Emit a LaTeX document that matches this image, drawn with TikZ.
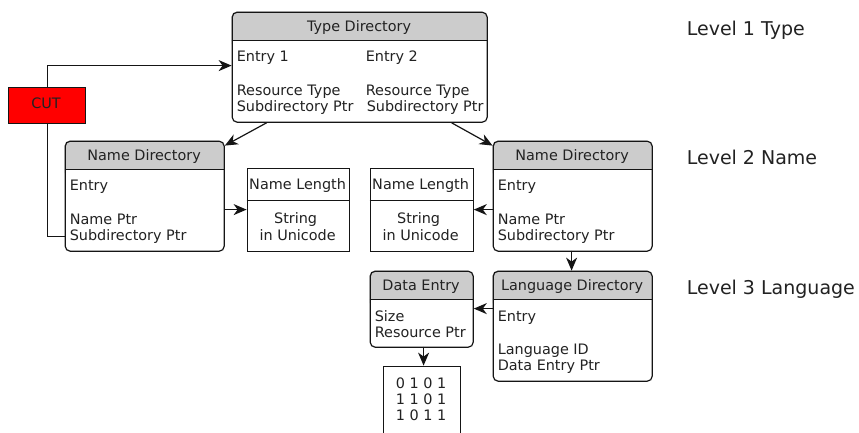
\documentclass[tikz,border=0pt]{standalone}
\usepackage{fontspec}
\setmainfont{DejaVu Sans}
\usetikzlibrary{arrows.meta}
\definecolor{hdr}{HTML}{CCCCCC}
\definecolor{ink}{HTML}{222222}
\definecolor{edge}{HTML}{151515}
\tikzset{
  x=1pt,y=-1pt,
  boxnode/.style={draw=edge,line width=1.2pt,inner sep=0pt,anchor=north west,fill=white},
  rbox/.style={boxnode,rounded corners=5pt},
  txt/.style={anchor=base west,inner sep=0pt,font=\fontsize{14.4}{16}\selectfont,text=ink},
  ctxt/.style={anchor=base,inner sep=0pt,font=\fontsize{14.4}{16}\selectfont,text=ink},
  lvl/.style={anchor=base west,inner sep=0pt,font=\fontsize{19}{22}\selectfont,text=ink},
  conn/.style={draw=edge,line width=1.2pt,-{Stealth[length=13pt,width=11pt,inset=4pt]}},
  plainconn/.style={draw=edge,line width=1.2pt},
}
% #1 name, #2 x0, #3 y0, #4 x1, #5 y1, #6 header bottom, #7 title
\newcommand{\dirbox}[7]{%
  \fill[hdr,rounded corners=5pt] (#2,#3) rectangle (#4,#6+8);
  \fill[white] (#2,#6) rectangle (#4,#6+9);
  \node[rbox,fill=none,minimum width=#4pt-#2pt,minimum height=#5pt-#3pt] (#1) at (#2,#3) {};
  \draw[draw=edge,line width=1.2pt] (#2,#6) -- (#4,#6);
  \node[ctxt] (#1title) at ({(#2+#4)/2},#6-9) {#7};
}
\begin{document}
\begin{tikzpicture}
\useasboundingbox (0.4,0.4) rectangle (859.4,432.4);
\fill[white] (0,0) rectangle (860,433);

\dirbox{type}{232}{12}{487}{122}{41}{Type Directory}
\node[txt] (t1) at (237,62) {Entry 1};
\node[txt] (t2) at (366,62) {Entry 2};
\node[txt] (t3) at (237,96) {Resource Type};
\node[txt] (t4) at (366,96) {Resource Type};
\node[txt] (t5) at (237,112) {Subdirectory Ptr};
\node[txt] (t6) at (367,112) {Subdirectory Ptr};

\dirbox{nameL}{65}{141}{224}{251}{170}{Name Directory}
\node[txt] (nl1) at (70,191) {Entry};
\node[txt] (nl2) at (70,225) {Name Ptr};
\node[txt] (nl3) at (70,241) {Subdirectory Ptr};

\dirbox{nameR}{493}{141}{652}{251}{170}{Name Directory}
\node[txt] (nr1) at (498,191) {Entry};
\node[txt] (nr2) at (498,225) {Name Ptr};
\node[txt] (nr3) at (498,241) {Subdirectory Ptr};

\dirbox{lang}{493}{271}{652}{381}{300}{Language Directory}
\node[txt] (la1) at (498,322) {Entry};
\node[txt] (la2) at (498,355) {Language ID};
\node[txt] (la3) at (498,371) {Data Entry Ptr};

\dirbox{data}{370}{271}{473}{347}{300}{Data Entry}
\node[txt] (d1) at (375,322) {Size};
\node[txt] (d2) at (375,338) {Resource Ptr};

% Name length boxes
\node[boxnode,minimum width=102pt,minimum height=83pt] (lenL) at (247,168) {};
\draw[draw=edge,line width=1.2pt] (247,201) -- (349,201);
\node[ctxt] (lenLa) at (298,190) {Name Length};
\node[ctxt] (lenLb) at (296,224) {String};
\node[ctxt] (lenLc) at (298,241) {in Unicode};

\node[boxnode,minimum width=103pt,minimum height=83pt] (lenR) at (370,168) {};
\draw[draw=edge,line width=1.2pt] (370,201) -- (473,201);
\node[ctxt] (lenRa) at (421,190) {Name Length};
\node[ctxt] (lenRb) at (419,224) {String};
\node[ctxt] (lenRc) at (421,241) {in Unicode};

% binary box, runs off the bottom edge
\node[boxnode,minimum width=77pt,minimum height=70pt] (bin) at (383,366) {};
\node[ctxt] (b1) at (421.5,389) {0 1 0 1};
\node[ctxt] (b2) at (421.5,405) {1 1 0 1};
\node[ctxt] (b3) at (421.5,421) {1 0 1 1};

% CUT
\node[boxnode,fill=red,minimum width=77pt,minimum height=36pt] (cut) at (8,87) {};
\node[ctxt] (cutlabel) at (46.5,109) {CUT};

% connectors
\coordinate (cutin) at (232,66);
\coordinate (cutout) at (65,237);
\draw[conn] (cut.north -| 48,0) -- (48,66) -- (cutin);
\draw[plainconn] (cut.south -| 48,0) -- (48,237) -- (cutout);
\draw[conn] (type.south west) ++(35,0) -- ([yshift=-5pt]nameL.north east);
\draw[conn] (type.south west) ++(220,0) -- ([yshift=-5pt]nameR.north west);
\draw[conn] (nameL.east |- 0,210) -- (lenL.west |- 0,210);
\draw[conn] (nameR.west |- 0,210) -- (lenR.east |- 0,210);
\draw[conn] (572,251) -- (572,271);
\draw[conn] (lang.west |- 0,309) -- (data.east |- 0,309);
\draw[conn] (424,347) -- (424,366);

% level labels
\node[lvl] (l1) at (687,36) {Level 1 Type};
\node[lvl] (l2) at (687,165) {Level 2 Name};
\node[lvl] (l3) at (687,295) {Level 3 Language};
\end{tikzpicture}
\end{document}
